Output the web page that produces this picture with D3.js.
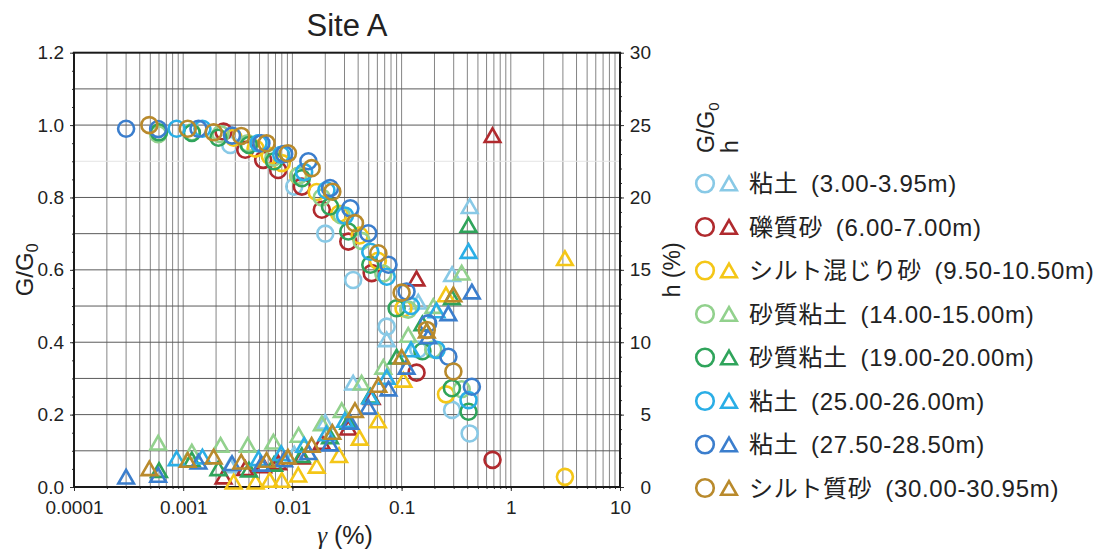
<!DOCTYPE html>
<html>
<head>
<meta charset="utf-8">
<script src="https://cdn.jsdelivr.net/npm/d3@7"></script>
<style>
  body { margin: 0; background: #fff; }
  text { font-family: "Liberation Sans", Arial, sans-serif; fill: #222; }
  .jp { font-family: "Liberation Sans", "Noto Sans CJK JP", sans-serif; }
</style>
</head>
<body>
<svg id="chart" width="1106" height="554"></svg>
<script>
// Layer 1: 粘土 (3.00-3.95m)
const gamma1 = [0.0027, 0.0104, 0.020, 0.036, 0.073, 0.142, 0.29, 0.42];
const ratio1 = [0.945, 0.83, 0.70, 0.572, 0.443, 0.38, 0.213, 0.148];
const damp1  = [1.5, 2.3, 4.5, 7.2, 10.2, 12.8, 14.7, 19.4];
// Layer 2: 礫質砂 (6.00-7.00m)
const gamma2 = [0.00234, 0.0037, 0.0054, 0.0074, 0.0122, 0.0186, 0.0325, 0.0532, 0.137, 0.68];
const ratio2 = [0.982, 0.932, 0.904, 0.876, 0.83, 0.766, 0.678, 0.591, 0.316, 0.075];
const damp2  = [0.72, 1.3, 1.5, 1.7, 2.1, 3.1, 4.1, 6.2, 14.4, 24.3];
// Layer 3: シルト混じり砂 (9.50-10.50m)
const gamma3 = [0.0029, 0.0046, 0.0062, 0.008, 0.0113, 0.0167, 0.0268, 0.0413, 0.0607, 0.104, 0.255, 3.13];
const ratio3 = [0.965, 0.935, 0.915, 0.895, 0.86, 0.815, 0.755, 0.695, 0.625, 0.494, 0.256, 0.028];
const damp3  = [0.37, 0.37, 0.49, 0.49, 0.85, 1.46, 2.2, 3.4, 4.6, 7.4, 13.3, 15.8];
// Layer 4: 砂質粘土 (14.00-15.00m)
const gamma4 = [0.00059, 0.0012, 0.0022, 0.0039, 0.0067, 0.0114, 0.0186, 0.0283, 0.043, 0.068, 0.115, 0.195, 0.355];
const ratio4 = [0.975, 0.98, 0.975, 0.95, 0.91, 0.86, 0.80, 0.75, 0.68, 0.59, 0.49, 0.38, 0.27];
const damp4  = [3.06, 2.44, 2.9, 2.9, 3.13, 3.6, 4.4, 5.3, 7.2, 8.3, 10.5, 12.5, 14.8];
// Layer 5: 砂質粘土 (19.00-20.00m)
const gamma5 = [0.0006, 0.0012, 0.0021, 0.004, 0.0068, 0.0122, 0.0221, 0.0325, 0.0517, 0.09, 0.155, 0.289, 0.41];
const ratio5 = [0.98, 0.978, 0.965, 0.945, 0.9, 0.853, 0.775, 0.706, 0.614, 0.494, 0.375, 0.273, 0.208];
const damp5  = [1.17, 1.9, 1.29, 1.2, 1.6, 2.2, 3.5, 4.5, 6.3, 9.0, 11.3, 13.1, 18.1];
// Layer 6: 粘土 (25.00-26.00m)
const gamma6 = [0.00087, 0.0015, 0.0049, 0.0079, 0.0128, 0.0205, 0.0303, 0.0517, 0.0731, 0.122, 0.209, 0.41];
const ratio6 = [0.99, 0.99, 0.95, 0.918, 0.87, 0.82, 0.75, 0.65, 0.581, 0.5, 0.379, 0.24];
const damp6  = [1.98, 2.1, 1.98, 2.33, 2.9, 3.7, 4.63, 6.24, 7.6, 9.5, 12.2, 16.3];
// Layer 7: 粘土 (27.50-28.50m)
const gamma7 = [0.0003, 0.00059, 0.00138, 0.0028, 0.0052, 0.0084, 0.014, 0.0221, 0.0339, 0.0495, 0.0758, 0.111, 0.175, 0.268, 0.44];
const ratio7 = [0.99, 0.989, 0.99, 0.971, 0.95, 0.92, 0.9, 0.826, 0.77, 0.701, 0.614, 0.54, 0.452, 0.36, 0.277];
const damp7  = [0.71, 0.83, 1.75, 1.64, 1.6, 1.9, 2.4, 3.0, 4.5, 5.55, 6.8, 8.3, 10.4, 12.0, 13.5];
// Layer 8: シルト質砂 (30.00-30.95m)
const gamma8 = [0.00049, 0.0011, 0.0019, 0.0034, 0.0058, 0.0091, 0.015, 0.0232, 0.0374, 0.0612, 0.1, 0.17, 0.298];
const ratio8 = [1.0, 0.99, 0.98, 0.97, 0.95, 0.922, 0.881, 0.816, 0.729, 0.646, 0.537, 0.434, 0.319];
const damp8  = [1.29, 1.87, 2.1, 1.75, 1.87, 2.1, 2.9, 3.8, 5.3, 7.05, 9.0, 10.8, 13.3];

const layerNames = [
  "粘土\u2002(3.00-3.95m)",
  "礫質砂\u2002(6.00-7.00m)",
  "シルト混じり砂\u2002(9.50-10.50m)",
  "砂質粘土\u2002(14.00-15.00m)",
  "砂質粘土\u2002(19.00-20.00m)",
  "粘土\u2002(25.00-26.00m)",
  "粘土\u2002(27.50-28.50m)",
  "シルト質砂\u2002(30.00-30.95m)"
];
const layerColors = ["#88c9e6", "#b02a2e", "#f4c617", "#92d18d", "#2fa45b", "#2aaee6", "#3b7ecd", "#b98a2c"];

const xTickValues = [0.0001, 0.001, 0.01, 0.1, 1, 10];
const xTickLabels = ["0.0001", "0.001", "0.01", "0.1", "1", "10"];
const yLeftTicks = [0, 0.2, 0.4, 0.6, 0.8, 1.0, 1.2];
const yRightTicks = [0, 5, 10, 15, 20, 25, 30];

const gammas = [gamma1, gamma2, gamma3, gamma4, gamma5, gamma6, gamma7, gamma8];
const ratios = [ratio1, ratio2, ratio3, ratio4, ratio5, ratio6, ratio7, ratio8];
const damps  = [damp1, damp2, damp3, damp4, damp5, damp6, damp7, damp8];
const layers = layerNames.map((name, i) => ({
  name, color: layerColors[i],
  pts: gammas[i].map((g, j) => ({ g, r: ratios[i][j], h: damps[i][j] }))
}));

const svg = d3.select("#chart");
const L = 74, R = 620, T = 52.7, B = 487;

const x = d3.scaleLog().domain([0.0001, 10]).range([L, R]);
const yL = d3.scaleLinear().domain([0, 1.2]).range([B, T]);
const yR = d3.scaleLinear().domain([0, 30]).range([B, T]);

// grid
const grid = svg.append("g");
const minorX = [];
for (let e = -4; e < 1; e++) for (let m = 1; m < 10; m++) minorX.push(m * Math.pow(10, e));
minorX.push(10);
grid.selectAll("line.vx").data(minorX).join("line")
  .attr("x1", d => x(d)).attr("x2", d => x(d)).attr("y1", T).attr("y2", B)
  .attr("stroke", "#858585").attr("stroke-width", 1);
const hLines = d3.range(1, 12).map(i => i / 10);
grid.selectAll("line.hy").data(hLines).join("line")
  .attr("x1", L).attr("x2", R).attr("y1", d => yL(d)).attr("y2", d => yL(d))
  .attr("stroke", d => Math.abs(d - 0.9) < 1e-6 ? "#e4e4e4" : "#5a5a5a")
  .attr("stroke-width", 1);

// axes
const axB = svg.append("g").attr("transform", `translate(0,${B})`)
  .call(d3.axisBottom(x).tickValues(xTickValues).tickFormat((d, i) => xTickLabels[i]).tickSize(4).tickPadding(6));
const axBm = svg.append("g").attr("transform", `translate(0,${B})`)
  .call(d3.axisBottom(x).tickValues(minorX).tickFormat("").tickSize(2));
const axL = svg.append("g").attr("transform", `translate(${L},0)`)
  .call(d3.axisLeft(yL).tickValues(yLeftTicks).tickFormat(d3.format(".1f")).tickSize(4).tickPadding(6));
const axLm = svg.append("g").attr("transform", `translate(${L},0)`)
  .call(d3.axisLeft(yL).tickValues(d3.range(0, 25).map(i => i * 0.05)).tickFormat("").tickSize(2));
const axR = svg.append("g").attr("transform", `translate(${R},0)`)
  .call(d3.axisRight(yR).tickValues(yRightTicks).tickFormat(d3.format("d")).tickSize(4).tickPadding(8));
const axRm = svg.append("g").attr("transform", `translate(${R},0)`)
  .call(d3.axisRight(yR).tickValues(d3.range(0, 31)).tickFormat("").tickSize(2));
[axB, axBm, axL, axLm, axR, axRm].forEach(a => {
  a.select(".domain").remove();
  a.selectAll(".tick line").attr("stroke", "#333");
  a.selectAll("text").attr("font-size", 19).attr("fill", "#222")
    .attr("font-family", "Liberation Sans, Arial, sans-serif");
});
axR.selectAll("text").attr("text-anchor", "end").attr("x", 31);
axB.selectAll("text").attr("dy", "0.92em");

// frame
svg.append("rect").attr("x", L).attr("y", T).attr("width", R - L).attr("height", B - T)
  .attr("fill", "none").attr("stroke", "#1a1a1a").attr("stroke-width", 2);

// markers
const triPath = (cx, cy) => {
  const w = 7.8, hh = 6.8;
  return `M${cx},${cy - hh}L${cx + w},${cy + hh}L${cx - w},${cy + hh}Z`;
};
const marks = svg.append("g");
layers.forEach(layer => {
  const g = marks.append("g");
  g.selectAll("circle").data(layer.pts).join("circle")
    .attr("cx", d => x(d.g)).attr("cy", d => yL(d.r)).attr("r", 8)
    .attr("fill", "none").attr("stroke", layer.color).attr("stroke-width", 2.6);
  g.selectAll("path").data(layer.pts).join("path")
    .attr("d", d => triPath(x(d.g), yR(d.h)))
    .attr("fill", "none").attr("stroke", layer.color).attr("stroke-width", 2.6)
    .attr("stroke-linejoin", "miter");
});

// titles
svg.append("text").attr("x", (L + R) / 2).attr("y", 36).attr("text-anchor", "middle")
  .attr("font-size", 31).text("Site A");
const xl = svg.append("text").attr("x", (L + R) / 2 - 2).attr("y", 544).attr("text-anchor", "middle")
  .attr("font-size", 25);
xl.append("tspan").attr("font-family", "Liberation Serif, serif").attr("font-style", "italic").text("γ");
xl.append("tspan").text(" (%)");
const yl = svg.append("text").attr("transform", `translate(33,${(T + B) / 2}) rotate(-90)`)
  .attr("text-anchor", "middle").attr("font-size", 24);
yl.append("tspan").text("G/G");
yl.append("tspan").attr("font-size", 16).attr("dy", 5).text("0");
svg.append("text").attr("transform", `translate(680,${(T + B) / 2}) rotate(-90)`)
  .attr("text-anchor", "middle").attr("font-size", 23).text("h (%)");

// legend
const lg = svg.append("g");
const lh = lg.append("text").attr("transform", "translate(714,153) rotate(-90)").attr("font-size", 23);
lh.append("tspan").text("G/G");
lh.append("tspan").attr("font-size", 15).attr("dy", 5).text("0");
lg.append("text").attr("transform", "translate(738,153) rotate(-90)").attr("font-size", 23).text("h");
const rows = lg.selectAll("g.row").data(layers).join("g")
  .attr("transform", (d, i) => `translate(0,${183.5 + i * 43.5})`);
rows.append("circle").attr("cx", 705).attr("cy", 0).attr("r", 8.8)
  .attr("fill", "none").attr("stroke", d => d.color).attr("stroke-width", 2.6);
rows.append("path").attr("d", triPath(729, 0))
  .attr("fill", "none").attr("stroke", d => d.color).attr("stroke-width", 2.6);
rows.append("text").attr("class", "jp").attr("x", 749).attr("y", 0).attr("dy", "0.36em")
  .attr("font-size", 24).attr("letter-spacing", 0.7).text(d => d.name);
</script>
</body>
</html>
